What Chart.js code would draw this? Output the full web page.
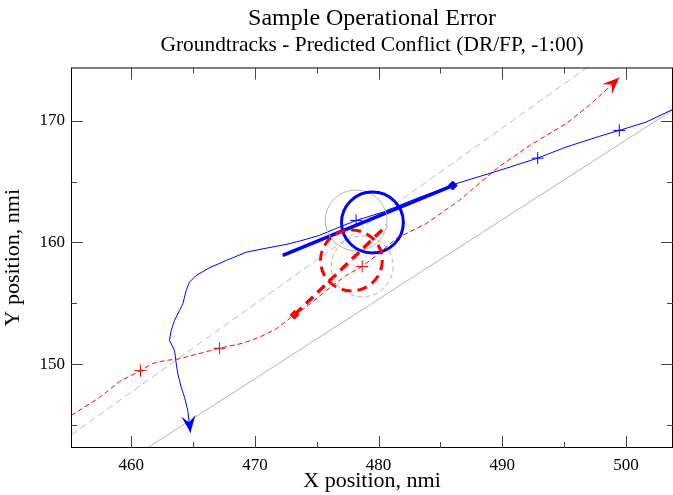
<!DOCTYPE html>
<html>
<head>
<meta charset="utf-8">
<script src="https://cdn.jsdelivr.net/npm/chart.js@4"></script>
<style>
  html, body { margin: 0; padding: 0; background: #fff; overflow: hidden; }
  canvas { display: block; }
</style>
</head>
<body>
<canvas id="track-chart" width="673" height="495"></canvas>
<script>
// aircraft 1 (blue) ground track, from right edge to the arrow
var blueTrackX = [503.74, 501.62, 499.46, 497.84, 495.15, 492.86, 489.76, 486.26, 483.03, 480.33, 478.18, 476.83, 475.21, 473.60, 472.53, 470.91, 469.29, 467.68, 466.33, 465.25, 464.71, 464.44, 464.17, 463.90, 463.50, 463.23, 463.09, 463.50, 463.64, 463.77, 464.04, 464.31, 464.57, 464.79];
var blueTrackY = [170.90, 169.88, 169.20, 168.71, 167.83, 166.92, 165.91, 164.82, 163.59, 162.48, 161.80, 161.25, 160.57, 160.10, 159.83, 159.52, 159.19, 158.51, 157.91, 157.28, 156.73, 156.04, 154.95, 154.40, 153.58, 152.76, 151.94, 151.12, 150.02, 149.19, 148.09, 147.27, 146.18, 144.36];
// aircraft 2 (red) ground track, left to right
var redTrackX = [455.15, 457.44, 459.05, 460.75, 461.72, 462.69, 463.90, 467.14, 469.02, 470.37, 471.72, 473.20, 474.14, 475.76, 477.37, 478.67, 480.06, 481.41, 483.84, 486.53, 489.76, 492.45, 495.15, 497.03, 498.65, 499.46];
var redTrackY = [145.77, 147.25, 148.56, 149.46, 150.04, 150.28, 150.43, 151.30, 151.71, 152.20, 152.89, 154.05, 154.67, 156.04, 157.28, 158.02, 159.11, 160.30, 161.53, 163.45, 166.24, 168.11, 169.75, 171.26, 172.76, 173.54];
// time marks (+) on the tracks
var blueMarkX = [478.18, 492.86, 499.46];
var blueMarkY = [161.80, 166.92, 169.20];
var redMarkX = [460.75, 467.14, 478.67];
var redMarkY = [149.46, 151.30, 158.02];
// positions at -1:00 and predicted paths
var bluePredX = [485.99, 472.25];
var bluePredY = [164.67, 158.92];
var redPredX = [473.20, 480.66];
var redPredY = [154.05, 161.39];
// boundary lines
var boundSolidX = [461.26, 503.74];
var boundSolidY = [143.08, 170.85];
var boundDashX = [455.15, 496.87];
var boundDashY = [144.18, 174.38];
// circles (centers, nmi) and radius
var sepCircleX = [478.18, 478.67];
var sepCircleY = [161.80, 158.02];
var predCircleX = [479.50, 477.80];
var predCircleY = [161.63, 158.51];
var circleRadius = 2.5;

var xMin = 455.13, xMax = 503.8;
var yMin = 143.1, yMax = 174.37;

function pts(xs, ys) {
  return xs.map(function (x, i) { return { x: x, y: ys[i] }; });
}

var serif = 'Liberation Serif';

var trackPlugin = {
  id: 'trackExtras',
  afterDatasetsDraw: function (chart) {
    var ctx = chart.ctx;
    var xs = chart.scales.x, ys = chart.scales.y;
    var area = chart.chartArea;
    ctx.save();
    ctx.beginPath();
    ctx.rect(area.left, area.top, area.right - area.left, area.bottom - area.top);
    ctx.clip();

    function circle(cx, cy, color, width, dash) {
      var px = xs.getPixelForValue(cx), py = ys.getPixelForValue(cy);
      var rx = xs.getPixelForValue(cx + circleRadius) - px;
      var ry = py - ys.getPixelForValue(cy + circleRadius);
      ctx.beginPath();
      ctx.setLineDash(dash);
      ctx.strokeStyle = color;
      ctx.lineWidth = width;
      ctx.ellipse(px, py, rx, ry, 0, 0, Math.PI * 2);
      ctx.stroke();
    }
    circle(sepCircleX[0], sepCircleY[0], '#b4b4b4', 1, []);
    circle(sepCircleX[1], sepCircleY[1], '#b4b4b4', 1, [5, 3]);
    circle(predCircleX[0], predCircleY[0], '#0000ff', 3, []);
    circle(predCircleX[1], predCircleY[1], '#ff0000', 3, [10, 6]);

    // arrow heads at the end of the tracks
    chart.data.datasets.forEach(function (ds, i) {
      if (!ds.arrow) return;
      var el = chart.getDatasetMeta(i).data;
      var a = el[el.length - 2], b = el[el.length - 1];
      var ang = Math.atan2(b.y - a.y, b.x - a.x);
      var len = 17, half = 7;
      ctx.save();
      ctx.translate(b.x, b.y);
      ctx.rotate(ang);
      ctx.setLineDash([]);
      ctx.fillStyle = ds.borderColor;
      ctx.beginPath();
      ctx.moveTo(0, 0);
      ctx.lineTo(-len, -half);
      ctx.lineTo(-len * 0.6, 0);
      ctx.lineTo(-len, half);
      ctx.closePath();
      ctx.fill();
      ctx.restore();
    });
    ctx.restore();
  },
  afterDraw: function (chart) {
    var ctx = chart.ctx;
    var area = chart.chartArea;
    var xs = chart.scales.x, ys = chart.scales.y;
    ctx.save();
    ctx.setLineDash([]);
    ctx.strokeStyle = '#000';
    ctx.lineWidth = 1;
    ctx.strokeRect(area.left + 0.5, area.top + 0.5, area.right - area.left - 1, area.bottom - area.top - 1);
    ctx.strokeStyle = '#444';
    ctx.beginPath();
    xs.ticks.forEach(function (t) {
      var p = Math.round(xs.getPixelForValue(t.value)) + 0.5;
      var l = t.value % 10 === 0 ? 12 : 6;
      ctx.moveTo(p, area.bottom); ctx.lineTo(p, area.bottom - l);
      ctx.moveTo(p, area.top); ctx.lineTo(p, area.top + l);
    });
    ys.ticks.forEach(function (t) {
      var p = Math.round(ys.getPixelForValue(t.value)) + 0.5;
      var l = t.value % 10 === 0 ? 12 : 6;
      ctx.moveTo(area.left, p); ctx.lineTo(area.left + l, p);
      ctx.moveTo(area.right, p); ctx.lineTo(area.right - l, p);
    });
    ctx.stroke();
    ctx.restore();
  }
};

function keepFives(scale) {
  scale.ticks = scale.ticks.filter(function (t) { return t.value % 5 === 0; });
}

var chart = new Chart(document.getElementById('track-chart'), {
  type: 'scatter',
  data: {
    datasets: [
      { data: pts(blueMarkX, blueMarkY), pointStyle: 'cross', pointRadius: 6, borderColor: '#0000ff', borderWidth: 1, showLine: false },
      { data: pts(redMarkX, redMarkY), pointStyle: 'cross', pointRadius: 6, borderColor: '#ff0000', borderWidth: 1, showLine: false },
      { data: pts(bluePredX.slice(0, 1), bluePredY.slice(0, 1)), pointStyle: 'rectRot', pointRadius: 4.5, backgroundColor: '#0000ff', borderColor: '#0000ff', showLine: false },
      { data: pts(redPredX.slice(0, 1), redPredY.slice(0, 1)), pointStyle: 'rectRot', pointRadius: 4.5, backgroundColor: '#ff0000', borderColor: '#ff0000', showLine: false },
      { data: pts(bluePredX, bluePredY), showLine: true, borderColor: '#0000ff', borderWidth: 3.5, pointRadius: 0 },
      { data: pts(redPredX, redPredY), showLine: true, borderColor: '#ff0000', borderWidth: 3.5, borderDash: [10, 6], pointRadius: 0 },
      { data: pts(blueTrackX, blueTrackY), showLine: true, borderColor: '#0000ff', borderWidth: 1, pointRadius: 0, arrow: true },
      { data: pts(redTrackX, redTrackY), showLine: true, borderColor: '#ff0000', borderWidth: 1, borderDash: [5, 3], pointRadius: 0, arrow: true },
      { data: pts(boundSolidX, boundSolidY), showLine: true, borderColor: '#b4b4b4', borderWidth: 1, pointRadius: 0 },
      { data: pts(boundDashX, boundDashY), showLine: true, borderColor: '#bcbcbc', borderWidth: 1, borderDash: [7, 4], pointRadius: 0 }
    ]
  },
  options: {
    responsive: false,
    animation: false,
    events: [],
    layout: { padding: 0, autoPadding: false },
    plugins: {
      legend: { display: false },
      tooltip: { enabled: false },
      title: {
        display: true,
        fullSize: false,
        text: 'Sample Operational Error',
        color: '#000',
        font: { family: serif, size: 24, weight: 'normal' },
        padding: { top: 4, bottom: 0 }
      },
      subtitle: {
        display: true,
        fullSize: false,
        text: 'Groundtracks - Predicted Conflict (DR/FP, -1:00)',
        color: '#000',
        font: { family: serif, size: 21.4, weight: 'normal' },
        padding: { top: 0, bottom: 9 }
      }
    },
    scales: {
      x: {
        type: 'linear',
        min: xMin, max: xMax,
        afterBuildTicks: keepFives,
        afterFit: function (s) { s.height = 47; s.paddingLeft = 0; s.paddingRight = 0; },
        grid: { display: false, drawTicks: false },
        border: { display: false },
        ticks: {
          stepSize: 5, includeBounds: false, autoSkip: false, maxRotation: 0, padding: 7,
          color: '#000', font: { family: serif, size: 17 },
          callback: function (v) { return v % 10 === 0 ? v : ''; }
        },
        title: { display: true, text: 'X position, nmi', color: '#000', font: { family: serif, size: 22 }, padding: { top: 0, bottom: 1 } }
      },
      y: {
        type: 'linear',
        min: yMin, max: yMax,
        afterBuildTicks: keepFives,
        afterFit: function (s) { s.width = 71; s.paddingTop = 0; s.paddingBottom = 0; },
        grid: { display: false, drawTicks: false },
        border: { display: false },
        ticks: {
          stepSize: 5, includeBounds: false, autoSkip: false, padding: 6,
          color: '#000', font: { family: serif, size: 17 },
          callback: function (v) { return v % 10 === 0 ? v : ''; }
        },
        title: { display: true, text: 'Y position, nmi', color: '#000', font: { family: serif, size: 22 }, padding: { top: 0, bottom: 0, left: 8 } }
      }
    }
  },
  plugins: [trackPlugin]
});
</script>
</body>
</html>
